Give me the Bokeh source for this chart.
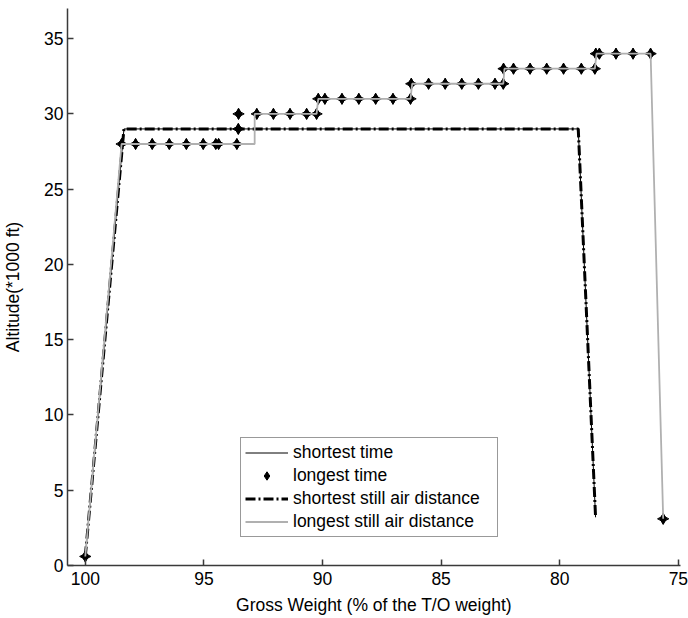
import math
from bokeh.plotting import figure
from bokeh.models import Range1d, Legend, LegendItem, FixedTicker
from bokeh.embed import file_html
from bokeh.resources import INLINE

# ---- data ----
short_time_w = [100.0, 98.37, 79.22, 78.49]
short_time_alt = [0.6, 29.0, 29.0, 3.2]

long_time_w = [100.0, 98.47, 97.88, 97.18, 96.46, 95.74, 95.03, 94.50, 94.38, 93.61,
               93.55, 93.54, 92.77, 92.07, 91.37, 90.67, 90.25,
               90.18, 89.90, 89.18, 88.47, 87.76, 87.03, 86.29,
               86.26, 85.53, 84.83, 84.13, 83.43, 82.73, 82.38,
               82.37, 81.95, 81.25, 80.55, 79.84, 79.09, 78.52,
               78.48, 78.33, 77.63, 76.91, 76.17, 75.64]
long_time_alt = [0.6, 28, 28, 28, 28, 28, 28, 28, 28, 28,
                 29, 30, 30, 30, 30, 30, 30,
                 31, 31, 31, 31, 31, 31, 31,
                 32, 32, 32, 32, 32, 32, 32,
                 33, 33, 33, 33, 33, 33, 33,
                 34, 34, 34, 34, 34, 3.1]

short_air_w = [100.0, 98.37, 79.22, 78.49]
short_air_alt = [0.6, 29.0, 29.0, 3.2]

long_air_w = [100.0, 98.47, 92.86, 92.86, 90.25, 90.18, 86.29, 86.22,
              82.38, 82.33, 78.52, 78.45, 76.17, 75.64]
long_air_alt = [0.6, 28, 28, 30, 30, 31, 31, 32, 32, 33, 33, 34, 34, 3.1]

x_ticks = [100, 95, 90, 85, 80, 75]
y_ticks = [0, 5, 10, 15, 20, 25, 30, 35]

FONT = "Liberation Sans"
FS = "17.5px"

p = figure(width=688, height=618, output_backend="svg", toolbar_location=None,
           x_range=Range1d(100.75, 74.91), y_range=Range1d(0, 37),
           min_border_left=66, min_border_right=8, min_border_top=8, min_border_bottom=53)
p.outline_line_color = None
p.xgrid.visible = False
p.ygrid.visible = False
p.background_fill_color = "white"
p.border_fill_color = "white"

for ax in (p.xaxis[0], p.yaxis[0]):
    ax.axis_line_color = "#3a3a3a"
    ax.axis_line_width = 1.5
    ax.major_tick_line_color = "#3a3a3a"
    ax.major_tick_line_width = 1.5
    ax.major_tick_in = 6
    ax.major_tick_out = 0
    ax.minor_tick_line_color = None
    ax.major_label_text_font = FONT
    ax.major_label_text_font_size = FS
    ax.major_label_text_color = "black"
    ax.axis_label_text_font = FONT
    ax.axis_label_text_font_size = FS
    ax.axis_label_text_font_style = "normal"
    ax.axis_label_text_color = "black"

p.xaxis.ticker = FixedTicker(ticks=x_ticks)
p.yaxis.ticker = FixedTicker(ticks=y_ticks)
p.xaxis.axis_label = "Gross Weight (% of the T/O weight)"
p.yaxis.axis_label = "Altitude(*1000 ft)"
p.xaxis.major_label_standoff = 6
p.xaxis.axis_label_standoff = 7
p.yaxis.major_label_standoff = 4
p.yaxis.axis_label_standoff = 18

r1 = p.line(short_time_w, short_time_alt, line_color="black", line_width=1)
r2 = p.scatter(long_time_w, long_time_alt, marker="diamond", size=10,
               fill_color="black", line_color="black")
p.scatter(long_time_w, long_time_alt, marker="square_pin", size=8,
          angle=math.pi / 4, fill_color="black", line_color="black")
r3 = p.line(short_air_w, short_air_alt, line_color="black", line_width=3,
            line_dash="10 3 2 3")
r4 = p.line(long_air_w, long_air_alt, line_color="#b0b0b0", line_width=1.8)

legend = Legend(items=[
    LegendItem(label="shortest time", renderers=[r1]),
    LegendItem(label="longest time", renderers=[r2]),
    LegendItem(label="shortest still air distance", renderers=[r3]),
    LegendItem(label="longest still air distance", renderers=[r4]),
], location=(173, 28))
legend.label_text_font = FONT
legend.label_text_font_size = FS
legend.label_text_color = "black"
legend.border_line_color = "#333333"
legend.border_line_width = 1.2
legend.background_fill_color = "white"
legend.background_fill_alpha = 1
legend.padding = 4
legend.spacing = 2
legend.glyph_height = 21
legend.glyph_width = 43
legend.label_standoff = 5
legend.label_width = 200
legend.margin = 0
p.add_layout(legend, "center")

open("out.html", "w").write(file_html(p, INLINE))
